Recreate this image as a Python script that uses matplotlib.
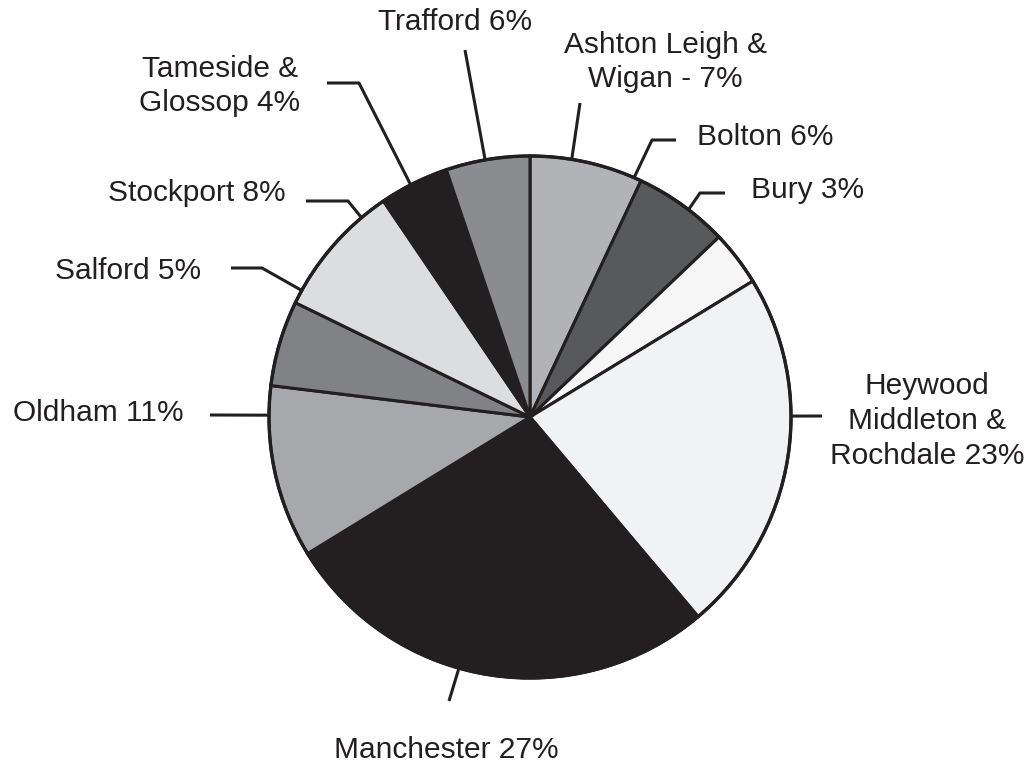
import numpy as np
import matplotlib
matplotlib.use('Agg')
import matplotlib.pyplot as plt

# 数据：各区域占比（从图上量出的扇区角度），标签文字
areas = ["Ashton Leigh &\nWigan - 7%", "Bolton 6%", "Bury 3%",
         "Heywood\nMiddleton &\nRochdale 23%", "Manchester 27%", "Oldham 11%",
         "Salford 5%", "Stockport 8%", "Tameside &\nGlossop 4%", "Trafford 6%"]
shares = [7.0, 5.9, 3.4, 22.6, 27.4, 10.7, 5.3, 8.3, 4.3, 5.2]
colors = ["#b1b3b6", "#58595b", "#f6f6f6", "#f1f2f4", "#231f20",
          "#a6a8ab", "#808285", "#dcdddf", "#231f20", "#8a8c8f"]

W, H = 1031, 767
cx, cy, r = 530, 417, 261   # 像素坐标（y 向下）
ink = "#231f20"

plt.rcParams['font.family'] = ['Liberation Sans', 'DejaVu Sans']

fig = plt.figure(figsize=(W / 100, H / 100), dpi=100)
ax = fig.add_axes([0, 0, 1, 1])
ax.pie(shares, colors=colors, startangle=90, counterclock=False,
       radius=r, center=(cx, H - cy),
       wedgeprops=dict(edgecolor=ink, linewidth=2.2))
ax.add_patch(plt.Circle((cx, H - cy), r, fill=False, edgecolor=ink, linewidth=2.4))
ax.set_xlim(0, W)
ax.set_ylim(0, H)
ax.set_aspect('equal')
ax.axis('off')

# 引线：圆周上的角度 + 折点（像素），文字位置
leaders = [
    (80.8, [(580, 103)], (665, 62), 'center'),
    (66.5, [(652, 140), (676, 140)], (697, 137), 'left'),
    (52.6, [(700, 193), (725, 193)], (751, 190), 'left'),
    (0.2, [(822, 416)], (927, 421), 'center'),
    (254.2, [(449, 701)], (446, 750), 'center'),
    (179.6, [(210, 415)], (184, 413), 'right'),
    (151.0, [(262, 268), (231, 268)], (201, 271), 'right'),
    (130.2, [(348, 201), (306, 201)], (286, 193), 'right'),
    (117.2, [(359, 83), (327, 83)], (220, 86), 'center'),
    (99.9, [(465, 50)], (455, 22), 'center'),
]

for label, (ang, pts, (tx, ty), ha) in zip(areas, leaders):
    a = np.deg2rad(ang)
    x0 = cx + r * np.cos(a)
    y0 = cy - r * np.sin(a)
    xs = [x0] + [p[0] for p in pts]
    ys = [y0] + [p[1] for p in pts]
    ax.plot(xs, [H - y for y in ys], color=ink, linewidth=2.2,
            solid_capstyle='butt', zorder=0)
    ax.text(tx, H - ty, label, ha=ha, va='center', multialignment='center',
            fontsize=21.5, color=ink, linespacing=1.3)

plt.savefig("out.png", dpi=100)
plt.close()
